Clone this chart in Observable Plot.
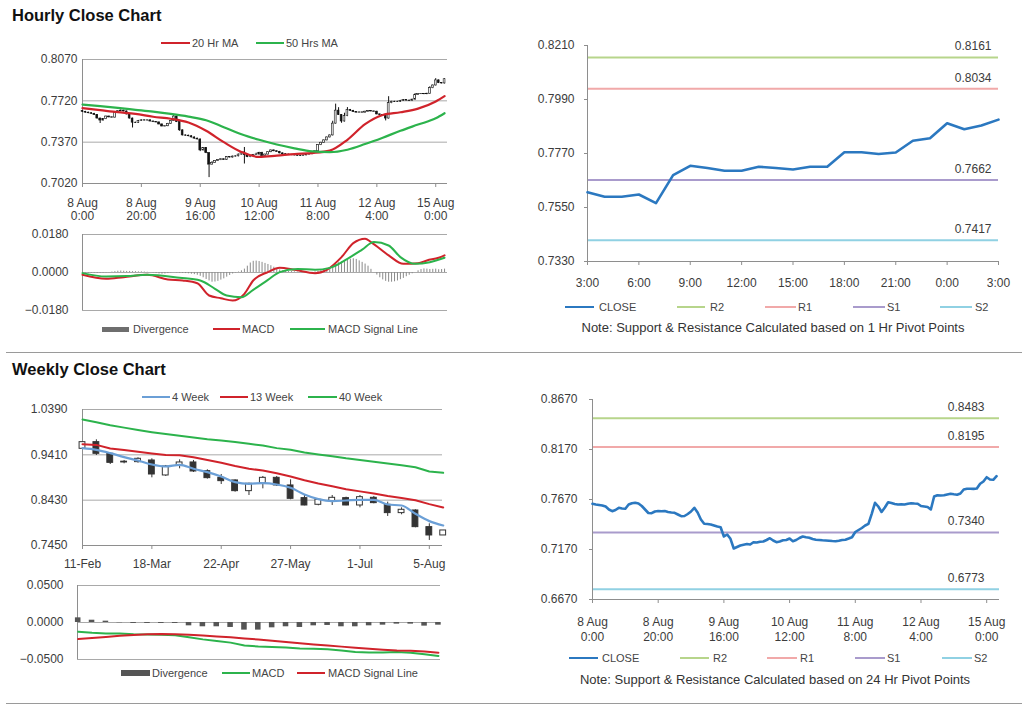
<!DOCTYPE html>
<html><head><meta charset="utf-8">
<script src="https://cdn.jsdelivr.net/npm/d3@7"></script>
<script src="https://cdn.jsdelivr.net/npm/@observablehq/plot@0.6"></script>
<style>
html,body{margin:0;padding:0;background:#fff;}
#page{position:relative;width:1024px;height:706px;overflow:hidden;font-family:"Liberation Sans",Arial,sans-serif;color:#333;background:#fff;}
.abs{position:absolute;}
.title{position:absolute;font-weight:bold;font-size:16.5px;color:#111;white-space:nowrap;}
.lg{position:absolute;font-size:11px;line-height:14px;color:#444;white-space:nowrap;}
.note{position:absolute;font-size:13px;line-height:14px;color:#333;white-space:nowrap;transform:translateX(-50%);}
.sep{position:absolute;left:6px;width:1016px;height:1px;background:#9a9a9a;}
svg{overflow:visible;}
</style></head><body><div id="page"></div>
<script>
// ---------------- DATA ----------------
// Hourly (8 Aug 0:00 .. 15 Aug ~3:00), trading-hour index
const hourTickPos = [0, 20, 40, 60, 80, 100, 120];
const hourTickLabels = ["8 Aug\n0:00", "8 Aug\n20:00", "9 Aug\n16:00", "10 Aug\n12:00", "11 Aug\n8:00", "12 Aug\n4:00", "15 Aug\n0:00"];
const hourlyOpen0 = 0.7635;
const hourlyClose = [
0.7627,0.7620,0.7615,0.7610,0.7600,0.7570,0.7553,0.7565,0.7587,0.7580,
0.7578,0.7620,0.7632,0.7637,0.7630,0.7605,0.7570,0.7535,0.7533,0.7550,
0.7555,0.7553,0.7555,0.7545,0.7540,0.7537,0.7520,0.7503,0.7505,0.7525,
0.7550,0.7587,0.7540,0.7470,0.7427,0.7425,0.7420,0.7410,0.7400,0.7393,
0.7300,0.7320,0.7277,0.7180,0.7195,0.7210,0.7218,0.7225,0.7220,0.7243,
0.7240,0.7248,0.7250,0.7265,0.7283,0.7260,0.7243,0.7250,0.7262,0.7265,
0.7280,0.7253,0.7265,0.7285,0.7300,0.7293,0.7288,0.7275,0.7268,0.7265,
0.7262,0.7260,0.7258,0.7255,0.7253,0.7258,0.7265,0.7268,0.7280,0.7293,
0.7345,0.7365,0.7385,0.7410,0.7427,0.7527,0.7637,0.7600,0.7545,0.7590,
0.7643,0.7635,0.7625,0.7620,0.7622,0.7620,0.7628,0.7633,0.7630,0.7628,
0.7605,0.7600,0.7595,0.7570,0.7700,0.7712,0.7710,0.7712,0.7720,0.7727,
0.7722,0.7718,0.7730,0.7770,0.7777,0.7778,0.7776,0.7780,0.7827,0.7850,
0.7893,0.7870,0.7867,0.7903];
// wick lengths in pips above/below the candle body
const hourlyWickUp = [
4,4,4,4,4,4,4,4,4,4, 4,4,4,6,4,4,4,4,4,4, 4,4,4,4,4,4,4,4,4,4, 4,8,4,4,4,4,4,4,4,4,
4,4,4,4,10,4,4,4,4,4, 4,4,4,4,4,42,4,4,4,12, 4,4,4,4,4,4,4,4,4,4, 4,4,4,4,4,4,4,4,4,4,
4,4,4,4,4,20,55,25,4,25, 20,4,4,4,4,4,4,4,4,4, 4,4,4,4,55,4,4,4,4,4, 4,4,4,12,4,4,4,4,12,4,
15,4,4,4];
const hourlyWickDown = [
4,4,4,4,4,4,25,4,4,4, 4,4,4,4,4,4,4,45,4,4, 4,4,4,4,4,4,4,4,4,4, 4,4,4,8,4,4,4,4,4,4,
10,4,4,110,4,4,4,4,4,4, 4,4,4,4,4,75,4,4,4,4, 4,10,4,4,4,4,4,4,4,4, 4,4,4,4,4,4,4,4,4,4,
4,4,4,4,4,4,4,4,15,4, 4,4,4,4,4,4,4,4,4,4, 4,4,4,20,4,4,4,4,4,4, 4,4,4,4,4,4,4,4,4,4,
4,4,4,4];
const hourlyYTicks = [0.7020, 0.7370, 0.7720, 0.8070];
const maHours = [0,6,12,18,24,30,36,42,48,54,60,66,72,78,84,90,96,102,108,114,120,123];
const ma20Hr = [0.7658,0.7641,0.7624,0.7610,0.7585,0.7568,0.7536,0.7466,0.7370,0.7287,0.7245,0.7256,0.7269,0.7278,0.7298,0.7390,0.7522,0.7600,0.7623,0.7654,0.7715,0.7760];
const ma50Hr = [0.7689,0.7675,0.7660,0.7644,0.7628,0.7609,0.7586,0.7556,0.7497,0.7437,0.7390,0.7350,0.7318,0.7292,0.7285,0.7306,0.7354,0.7408,0.7466,0.7519,0.7572,0.7615];

// Hourly MACD
const hourlyMacdYTicks = [-0.018, 0, 0.018];
const macdHours = [0,8,14,22,29,34,39,43,47,51,55,58,63,67,72,79,83,88,92,96,98,104,109,114,117,121,123];
const macdHourly = [-0.0011,-0.0030,-0.0022,-0.0011,-0.0033,-0.0038,-0.0051,-0.0109,-0.0122,-0.0133,-0.0101,-0.0038,0.0002,0.0022,0.0013,-0.0003,0.0013,0.0073,0.0139,0.0160,0.0144,0.0081,0.0041,0.0044,0.0057,0.0070,0.0081];
const signalHours = [0,8,15,22,33,40,45,49,54,58,63,67,73,79,84,90,95,99,104,108,113,118,123];
const signalHourly = [-0.0003,-0.0019,-0.0017,-0.0011,-0.0025,-0.0038,-0.0077,-0.0109,-0.0117,-0.0082,-0.0035,0.0002,0.0017,0.0013,0.0022,0.0065,0.0108,0.0144,0.0128,0.0073,0.0041,0.0049,0.0070];
const divergenceHourly = [
0.0000,-0.0002,-0.0003,-0.0003,-0.0003,-0.0004,-0.0003,-0.0003,-0.0002,-0.0001,
0.0002,0.0004,0.0006,0.0007,0.0006,0.0005,0.0005,0.0004,0.0004,0.0003,
0.0003,0.0002,0.0001,0.0000,-0.0002,-0.0005,-0.0007,-0.0008,-0.0007,-0.0005,
-0.0002,0.0000,-0.0002,-0.0003,-0.0004,-0.0005,-0.0006,-0.0008,-0.0010,-0.0013,
-0.0018,-0.0025,-0.0033,-0.0040,-0.0046,-0.0045,-0.0042,-0.0036,-0.0030,-0.0022,
-0.0014,-0.0007,-0.0002,0.0002,0.0008,0.0016,0.0030,0.0045,0.0053,0.0054,
0.0052,0.0048,0.0043,0.0038,0.0032,0.0025,0.0018,0.0012,0.0008,0.0006,
0.0005,0.0004,0.0003,0.0002,0.0002,0.0001,0.0001,0.0000,0.0001,0.0003,
0.0006,0.0009,0.0012,0.0016,0.0022,0.0030,0.0040,0.0046,0.0050,0.0055,
0.0060,0.0063,0.0065,0.0062,0.0055,0.0048,0.0040,0.0030,0.0015,0.0000,
-0.0012,-0.0025,-0.0035,-0.0042,-0.0046,-0.0046,-0.0044,-0.0040,-0.0034,-0.0028,
-0.0020,-0.0013,-0.0006,0.0000,0.0008,0.0014,0.0017,0.0016,0.0014,0.0015,
0.0016,0.0013,0.0014,0.0016];

// 1 Hr pivot chart (last 24 hours)
const pivot1Hours = d3.range(0, 25);
const pivot1TickPos = [0, 3, 6, 9, 12, 15, 18, 21, 24];
const pivot1TickLabels = ["3:00", "6:00", "9:00", "12:00", "15:00", "18:00", "21:00", "0:00", "3:00"];
const pivot1Close = [0.7612,0.7594,0.7594,0.7603,0.7568,0.7682,0.7720,0.7711,0.7700,0.7700,0.7716,0.7711,0.7705,0.7716,0.7716,0.7775,0.7775,0.7768,0.7774,0.7822,0.7832,0.7893,0.7869,0.7884,0.7908];
const pivot1YTicks = [0.7330, 0.7550, 0.7770, 0.7990, 0.8210];
const pivotNames = ["R2", "R1", "S1", "S2"];
const pivot1Levels = [0.8161, 0.8034, 0.7662, 0.7417];

// 24 Hr pivot chart (hourly closes)
const pivot24YTicks = [0.6670, 0.7170, 0.7670, 0.8170, 0.8670];
const pivot24Levels = [0.8483, 0.8195, 0.7340, 0.6773];

// Weekly
const weekTickPos = [0, 5, 10, 15, 20, 25];
const weekTickLabels = ["11-Feb", "18-Mar", "22-Apr", "27-May", "1-Jul", "5-Aug"];
const weeklyYTicks = [0.7450, 0.8430, 0.9410, 1.0390];
const weeklyOpen  = [0.9540,0.9684,0.9432,0.9262,0.9252,0.9288,0.8964,0.9173,0.9245,0.9057,0.8913,0.8856,0.8625,0.8798,0.8913,0.8748,0.8474,0.8330,0.8409,0.8474,0.8315,0.8481,0.8330,0.8150,0.8207,0.7847,0.7667];
const weeklyHigh  = [0.9690,0.9735,0.9454,0.9288,0.9346,0.9324,0.9180,0.9302,0.9288,0.9086,0.8985,0.8870,0.8798,0.8942,0.8942,0.8870,0.8531,0.8452,0.8531,0.8495,0.8531,0.8510,0.8387,0.8265,0.8222,0.7919,0.7775];
const weeklyLow   = [0.9535,0.9396,0.9201,0.9216,0.9230,0.8913,0.8942,0.9108,0.9029,0.8885,0.8769,0.8603,0.8531,0.8675,0.8726,0.8438,0.8308,0.8308,0.8315,0.8308,0.8265,0.8351,0.8078,0.8114,0.7833,0.7559,0.7667];
const weeklyClose = [0.9684,0.9432,0.9237,0.9245,0.9324,0.8985,0.9158,0.9245,0.9050,0.8906,0.8841,0.8625,0.8784,0.8913,0.8748,0.8459,0.8315,0.8438,0.8481,0.8315,0.8495,0.8366,0.8150,0.8222,0.7847,0.7667,0.7775];
const ma4Week  = [0.9555,0.9518,0.9447,0.9360,0.9288,0.9201,0.9158,0.9194,0.9108,0.9036,0.8942,0.8820,0.8784,0.8798,0.8769,0.8697,0.8553,0.8452,0.8409,0.8423,0.8438,0.8438,0.8337,0.8315,0.8135,0.7977,0.7883];
const ma13Week = [0.9640,0.9625,0.9545,0.9515,0.9475,0.9440,0.9405,0.9400,0.9360,0.9300,0.9240,0.9170,0.9110,0.9070,0.9010,0.8940,0.8860,0.8790,0.8730,0.8665,0.8620,0.8575,0.8520,0.8475,0.8430,0.8345,0.8270];
const ma40Week = [1.0174,1.0115,1.0048,0.9998,0.9948,0.9900,0.9858,0.9820,0.9785,0.9748,0.9718,0.9688,0.9648,0.9612,0.9555,0.9520,0.9460,0.9418,0.9380,0.9335,0.9300,0.9260,0.9225,0.9185,0.9140,0.9050,0.9021];

// Weekly MACD
const weeklyMacdYTicks = [-0.05, 0, 0.05];
const weeklyDivergence = [0.0063,0.0031,0.0018,-0.0004,-0.0013,-0.0013,-0.0013,-0.0013,-0.0045,-0.0058,-0.0058,-0.0067,-0.0103,-0.0103,-0.0072,-0.0058,-0.0067,-0.0045,-0.0040,-0.0058,-0.0058,-0.0045,-0.0036,-0.0022,-0.0022,-0.0049,-0.0036];
const weeklyMacd   = [-0.0125,-0.0140,-0.0148,-0.0150,-0.0160,-0.0162,-0.0166,-0.0172,-0.0200,-0.0228,-0.0250,-0.0272,-0.0310,-0.0325,-0.0330,-0.0338,-0.0350,-0.0356,-0.0362,-0.0380,-0.0400,-0.0405,-0.0405,-0.0398,-0.0410,-0.0430,-0.0452];
const weeklySignal = [-0.0224,-0.0210,-0.0195,-0.0180,-0.0168,-0.0160,-0.0157,-0.0160,-0.0165,-0.0175,-0.0188,-0.0200,-0.0215,-0.0230,-0.0246,-0.0262,-0.0280,-0.0298,-0.0312,-0.0326,-0.0342,-0.0356,-0.0368,-0.0378,-0.0383,-0.0392,-0.0408];

// ---------------- STYLE ----------------
const GRID = "#a9a9a9", AXIS = "#8e8e8e", TXT = "#3c3c3c";
const RED = "#d0232b", GREEN = "#2cb34c", BLUE4 = "#6b9fd6", CLOSEBLUE = "#2b78c0";
const pivotColors = ["#b7d58b", "#f1a9a9", "#a99bcc", "#90d1e3"];
const baseStyle = {fontFamily: "Liberation Sans, Arial, sans-serif", fontSize: "12px", color: TXT, background: "transparent", overflow: "visible"};
const f4 = d3.format(".4f");
const page = document.getElementById("page");

function place(node, left, top) {
  const d = document.createElement("div");
  d.className = "abs"; d.style.left = left + "px"; d.style.top = top + "px";
  d.appendChild(node); page.appendChild(d);
}
function div(cls, css, text) {
  const d = document.createElement("div");
  d.className = cls; Object.assign(d.style, css);
  if (text != null) d.textContent = text;
  page.appendChild(d); return d;
}
function lgLine(x1, x2, y, color, w) {
  div("abs", {left: x1 + "px", top: (y - w / 2) + "px", width: (x2 - x1) + "px", height: w + "px", background: color});
}
function lgText(x, y, t) { div("lg", {left: x + "px", top: (y - 7) + "px"}, t); }
function labelMap(pos, labels) { const m = new Map(pos.map((p, k) => [p, labels[k]])); return d => m.get(d) ?? ""; }

// ---------------- TITLES / SEPARATORS ----------------
div("title", {left: "12px", top: "6px"}, "Hourly Close Chart");
div("title", {left: "12px", top: "360px"}, "Weekly Close Chart");
div("sep", {top: "352px"});
div("sep", {top: "703px"});

// ---------------- A: hourly candles ----------------
const hourly = hourlyClose.map((c, i) => {
  const o = i === 0 ? hourlyOpen0 : hourlyClose[i - 1];
  return {i, o, c, h: Math.max(o, c) + hourlyWickUp[i] / 10000, l: Math.min(o, c) - hourlyWickDown[i] / 10000};
});
place(Plot.plot({
  width: 470, height: 172, marginLeft: 82, marginRight: 23, marginTop: 9, marginBottom: 39,
  x: {domain: [0, 124], label: null}, y: {domain: [0.702, 0.807], label: null}, style: baseStyle,
  marks: [
    Plot.gridY(hourlyYTicks, {stroke: GRID, strokeOpacity: 1}),
    Plot.ruleX([0], {stroke: AXIS}),
    Plot.ruleY([0.702], {stroke: AXIS}),
    Plot.axisY({ticks: hourlyYTicks, tickSize: 0, tickPadding: 5, tickFormat: f4, color: TXT, label: null}),
    Plot.axisX({ticks: hourTickPos, tickSize: 4, tickFormat: () => "", color: AXIS, label: null}),
    Plot.axisX({ticks: hourTickPos, tickSize: 0, tickPadding: 15, tickFormat: labelMap(hourTickPos, hourTickLabels), color: TXT, lineHeight: 1.03, label: null}),
    Plot.ruleX(hourly, {x: "i", y1: "l", y2: "h", stroke: "#111", strokeWidth: 1}),
    Plot.rect(hourly, {x1: d => d.i - 0.3, x2: d => d.i + 0.3, y1: "o", y2: "c", fill: d => d.c >= d.o ? "#fff" : "#111", stroke: "#111", strokeWidth: 0.6}),
    Plot.line(maHours, {x: maHours, y: ma20Hr, stroke: RED, strokeWidth: 2.2, curve: "monotone-x"}),
    Plot.line(maHours, {x: maHours, y: ma50Hr, stroke: GREEN, strokeWidth: 2.2, curve: "monotone-x"})
  ]
}), 0, 50);
lgLine(161, 190, 43, RED, 2); lgText(192, 43, "20 Hr MA");
lgLine(256, 284, 43, GREEN, 2); lgText(286, 43, "50 Hrs MA");

// ---------------- B: hourly MACD ----------------
place(Plot.plot({
  width: 470, height: 95, marginLeft: 82, marginRight: 23, marginTop: 9, marginBottom: 10,
  x: {domain: [0, 124], axis: null}, y: {domain: [-0.018, 0.018], label: null}, style: baseStyle,
  marks: [
    Plot.gridY(hourlyMacdYTicks, {stroke: GRID, strokeOpacity: 1}),
    Plot.ruleX([0], {stroke: AXIS}),
    Plot.axisY({ticks: hourlyMacdYTicks, tickSize: 0, tickPadding: 14, tickFormat: f4, color: TXT, label: null}),
    Plot.ruleX(hourly, {x: "i", y1: 0, y2: d => divergenceHourly[d.i], stroke: "#8a8a8a", strokeWidth: 1}),
    Plot.line(macdHours, {x: macdHours, y: macdHourly, stroke: RED, strokeWidth: 2, curve: "monotone-x"}),
    Plot.line(signalHours, {x: signalHours, y: signalHourly, stroke: GREEN, strokeWidth: 2, curve: "monotone-x"})
  ]
}), 0, 225);
div("abs", {left: "102px", top: "327px", width: "27px", height: "5px", background: "#6e6e6e"});
lgText(133, 329, "Divergence");
lgLine(213, 240, 329, RED, 2); lgText(242, 329, "MACD");
lgLine(290, 325, 329, GREEN, 2); lgText(328, 329, "MACD  Signal Line");

// ---------------- C: 1 Hr pivot ----------------
function pivotMarks(levels, xEnd, dx) {
  const marks = [];
  levels.forEach((v, k) => {
    marks.push(Plot.ruleY([v], {stroke: pivotColors[k], strokeWidth: 2}));
    marks.push(Plot.text([v], {x: () => xEnd, y: d => d, text: d => f4(d), textAnchor: "end", dx, dy: -11, fill: TXT, fontSize: 12}));
  });
  return marks;
}
place(Plot.plot({
  width: 514, height: 270, marginLeft: 77, marginRight: 26, marginTop: 25, marginBottom: 29,
  x: {domain: [0, 24], label: null}, y: {domain: [0.733, 0.821], label: null}, style: baseStyle,
  marks: [
    ...pivotMarks(pivot1Levels, 24, -7),
    Plot.ruleX([0], {stroke: AXIS}),
    Plot.ruleY([0.733], {stroke: AXIS}),
    Plot.axisY({ticks: pivot1YTicks, tickSize: 3, tickFormat: () => "", color: AXIS, label: null}),
    Plot.axisY({ticks: pivot1YTicks, tickSize: 0, tickPadding: 13, tickFormat: f4, color: TXT, label: null}),
    Plot.axisX({ticks: pivot1TickPos, tickSize: 4, tickFormat: () => "", color: AXIS, label: null}),
    Plot.axisX({ticks: pivot1TickPos, tickSize: 0, tickPadding: 17, tickFormat: (d) => pivot1TickLabels[pivot1TickPos.indexOf(d)], color: TXT, label: null}),
    Plot.line(pivot1Hours, {x: pivot1Hours, y: pivot1Close, stroke: CLOSEBLUE, strokeWidth: 2.6})
  ]
}), 510, 20);
lgLine(565, 594, 307, CLOSEBLUE, 2.5); lgText(599, 307, "CLOSE");
lgLine(677, 705, 307, pivotColors[0], 1.5); lgText(710, 307, "R2");
lgLine(765, 796, 307, pivotColors[1], 1.5); lgText(798, 307, "R1");
lgLine(853, 885, 307, pivotColors[2], 1.5); lgText(887, 307, "S1");
lgLine(940, 972, 307, pivotColors[3], 1.5); lgText(975, 307, "S2");
div("note", {left: "773px", top: "321px"}, "Note: Support & Resistance Calculated based on 1 Hr Pivot Points");

// ---------------- D: weekly candles ----------------
const weekly = weeklyClose.map((c, i) => ({i, o: weeklyOpen[i], h: weeklyHigh[i], l: weeklyLow[i], c}));
place(Plot.plot({
  width: 470, height: 175, marginLeft: 82, marginRight: 28, marginTop: 14, marginBottom: 25,
  x: {domain: [0, 25.95], label: null}, y: {domain: [0.745, 1.039], label: null}, style: baseStyle,
  marks: [
    Plot.gridY(weeklyYTicks, {stroke: GRID, strokeOpacity: 1}),
    Plot.ruleX([0], {stroke: AXIS}),
    Plot.ruleY([0.745], {stroke: AXIS}),
    Plot.axisY({ticks: weeklyYTicks, tickSize: 0, tickPadding: 15, tickFormat: f4, color: TXT, label: null}),
    Plot.axisX({ticks: weekTickPos, tickSize: 4, tickFormat: () => "", color: AXIS, label: null}),
    Plot.axisX({ticks: weekTickPos, tickSize: 0, tickPadding: 14, tickFormat: labelMap(weekTickPos, weekTickLabels), color: TXT, label: null}),
    Plot.ruleX(weekly, {x: "i", y1: "l", y2: "h", stroke: "#333", strokeWidth: 1}),
    Plot.rect(weekly, {x1: d => d.i - 0.21, x2: d => d.i + 0.21, y1: "o", y2: "c", fill: d => d.c >= d.o ? "#fff" : "#333", stroke: "#333", strokeWidth: 1}),
    Plot.line(weekly, {x: "i", y: ma40Week, stroke: GREEN, strokeWidth: 2}),
    Plot.line(weekly, {x: "i", y: ma13Week, stroke: RED, strokeWidth: 2}),
    Plot.line(weekly, {x: "i", y: ma4Week, stroke: BLUE4, strokeWidth: 2.2, curve: "monotone-x"})
  ]
}), 0, 395);
lgLine(142, 170, 397, BLUE4, 2); lgText(172, 397, "4 Week");
lgLine(220, 248, 397, RED, 2); lgText(250, 397, "13 Week");
lgLine(308, 337, 397, GREEN, 2); lgText(339, 397, "40 Week");

// ---------------- E: weekly MACD ----------------
place(Plot.plot({
  width: 470, height: 90, marginLeft: 77, marginRight: 30, marginTop: 10, marginBottom: 6,
  x: {domain: [-0.05, 26.15], axis: null}, y: {domain: [-0.05, 0.05], label: null}, style: baseStyle,
  marks: [
    Plot.gridY(weeklyMacdYTicks, {stroke: GRID, strokeOpacity: 1}),
    Plot.ruleX([-0.05], {stroke: AXIS}),
    Plot.axisY({ticks: weeklyMacdYTicks, tickSize: 0, tickPadding: 14, tickFormat: f4, color: TXT, label: null}),
    Plot.rect(weekly, {x1: d => d.i - 0.2, x2: d => d.i + 0.2, y1: 0, y2: d => weeklyDivergence[d.i], fill: "#555"}),
    Plot.line(weekly, {x: "i", y: weeklyMacd, stroke: GREEN, strokeWidth: 2}),
    Plot.line(weekly, {x: "i", y: weeklySignal, stroke: RED, strokeWidth: 2})
  ]
}), 0, 575);
div("abs", {left: "121px", top: "670px", width: "29px", height: "6px", background: "#555"});
lgText(152, 673, "Divergence");
lgLine(222, 250, 673, GREEN, 2); lgText(252, 673, "MACD");
lgLine(297, 325, 673, RED, 2); lgText(328, 673, "MACD  Signal Line");

// ---------------- F: 24 Hr pivot ----------------
place(Plot.plot({
  width: 514, height: 250, marginLeft: 82, marginRight: 25, marginTop: 14, marginBottom: 36,
  x: {domain: [0, 123.9], label: null}, y: {domain: [0.667, 0.867], label: null}, style: baseStyle,
  marks: [
    ...pivotMarks(pivot24Levels, 123.9, -15),
    Plot.ruleX([0], {stroke: AXIS}),
    Plot.ruleY([0.667], {stroke: AXIS}),
    Plot.axisY({ticks: pivot24YTicks, tickSize: 3, tickFormat: () => "", color: AXIS, label: null}),
    Plot.axisY({ticks: pivot24YTicks, tickSize: 0, tickPadding: 15, tickFormat: f4, color: TXT, label: null}),
    Plot.axisX({ticks: hourTickPos, tickSize: 4, tickFormat: () => "", color: AXIS, label: null}),
    Plot.axisX({ticks: hourTickPos, tickSize: 0, tickPadding: 16, tickFormat: labelMap(hourTickPos, hourTickLabels), color: TXT, lineHeight: 1.25, label: null}),
    Plot.line(hourly, {x: "i", y: "c", stroke: CLOSEBLUE, strokeWidth: 2.6})
  ]
}), 510, 385);
lgLine(569, 598, 658, CLOSEBLUE, 2.5); lgText(602, 658, "CLOSE");
lgLine(680, 709, 658, pivotColors[0], 1.5); lgText(713, 658, "R2");
lgLine(767, 797, 658, pivotColors[1], 1.5); lgText(800, 658, "R1");
lgLine(855, 885, 658, pivotColors[2], 1.5); lgText(887, 658, "S1");
lgLine(942, 972, 658, pivotColors[3], 1.5); lgText(974, 658, "S2");
div("note", {left: "775px", top: "673px"}, "Note: Support & Resistance Calculated based on 24 Hr Pivot Points");
</script></body></html>
